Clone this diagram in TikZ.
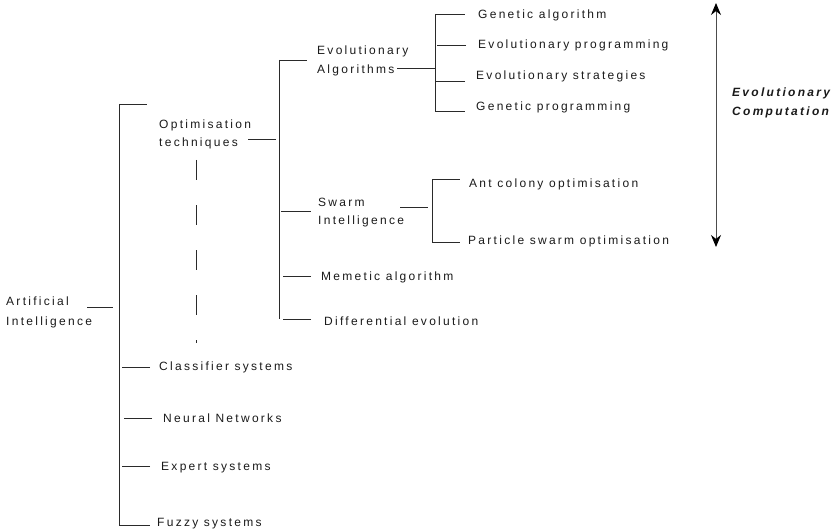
\documentclass[tikz,border=0pt]{standalone}
\usepackage{fontspec}
\setmainfont{Liberation Sans}[LetterSpace=19]
\usetikzlibrary{arrows.meta}
\definecolor{ink}{HTML}{1A1A1A}
\definecolor{rule}{HTML}{2A2A2A}
\begin{document}
\begin{tikzpicture}[x=1pt,y=-1pt,
  lbl/.style={anchor=west,inner sep=0pt,text=ink,font=\fontsize{12}{19}\selectfont,
              text height=12.6pt,text depth=2.7pt},
  lbl2/.style={anchor=north west,inner sep=0pt,text=ink,align=left},
  stub/.style={draw=rule,line width=0.8pt},
  trunk/.style={draw=rule,line width=0.8pt}]
\useasboundingbox (0,0) rectangle (838,532);

% ---- root ----
\node[lbl2,font=\fontsize{12}{20}\selectfont] (ai) at (6,297) {Artificial\\Intelligence};
\coordinate (t1a) at (119,104);
\coordinate (t1b) at (119,525);
\draw[trunk] (t1a) -- (t1b);
\draw[stub] ([shift={(81,10)}]ai.north west) -- ++(26,0);

% ---- first level ----
\node[lbl2,font=\fontsize{12}{18}\selectfont] (opt) at (159,120) {Optimisation\\techniques};
\draw[stub] (t1a) -- ++(28,0);
\draw[stub] ([shift={(89,19)}]opt.north west) -- ++(28,0);

\node[lbl] (cls) at (159,366) {Classifier systems};
\node[lbl] (nn)  at (163,418) {Neural Networks};
\node[lbl] (exp) at (161,466) {Expert systems};
\node[lbl] (fuz) at (157,522) {Fuzzy systems};
\draw[stub] ([shift={(-9,1)}]cls.west) -- ++(-28,0);
\draw[stub] ([shift={(-11,0)}]nn.west) -- ++(-28,0);
\draw[stub] ([shift={(-11,0)}]exp.west) -- ++(-28,0);
\draw[stub] (t1b) -- ([shift={(-7,3)}]fuz.west);

% dashed continuation below the optimisation techniques
\coordinate (da) at (196,160);
\coordinate (db) at (196,343);
\draw[rule,line width=0.8pt,dash pattern=on 20pt off 25pt] (da) -- (db);

% ---- optimisation techniques ----
\coordinate (t2a) at (279,60);
\coordinate (t2b) at (279,319);
\draw[trunk] (t2a) -- (t2b);

\node[lbl2,font=\fontsize{12}{19}\selectfont] (ea) at (317,46) {Evolutionary\\Algorithms};
\draw[stub] (t2a) -- ++(28,0);
\draw[stub] ([shift={(80,22)}]ea.north west) -- ++(38,0);

\node[lbl2,font=\fontsize{12}{18}\selectfont] (si) at (318,198) {Swarm\\Intelligence};
\draw[stub] ([shift={(-37,13)}]si.north west) -- ++(30,0);
\draw[stub] ([shift={(82,9)}]si.north west) -- ++(28,0);

\node[lbl] (mem) at (321,276) {Memetic algorithm};
\node[lbl] (de)  at (324,321) {Differential evolution};
\draw[stub] ([shift={(-10,0)}]mem.west) -- ++(-28,0);
\draw[stub] ([shift={(-13,-2)}]de.west) -- ++(-28,0);

% ---- evolutionary algorithms ----
\coordinate (t3a) at (435,14);
\coordinate (t3b) at (435,111);
\draw[trunk] (t3a) -- (t3b);

\node[lbl] (ga) at (478,14)  {Genetic algorithm};
\node[lbl] (ep) at (478,44)  {Evolutionary programming};
\node[lbl] (es) at (476,75)  {Evolutionary strategies};
\node[lbl] (gp) at (476,106) {Genetic programming};
\draw[stub] (t3a) -- ([xshift=-13]ga.west);
\draw[stub] ([shift={(-12,1)}]ep.west) -- ++(-29,0);
\draw[stub] ([shift={(-11,6)}]es.west) -- ++(-30,0);
\draw[stub] (t3b) -- ([shift={(-11,5)}]gp.west);

% ---- swarm intelligence ----
\coordinate (t4a) at (432,179);
\coordinate (t4b) at (432,242);
\draw[trunk] (t4a) -- (t4b);

\node[lbl] (ant) at (469,183) {Ant colony optimisation};
\node[lbl] (pso) at (468,240) {Particle swarm optimisation};
\draw[stub] (t4a) -- ([shift={(-9,-4)}]ant.west);
\draw[stub] (t4b) -- ([shift={(-8,2)}]pso.west);

% ---- evolutionary computation span ----
\coordinate (ecTop) at (716,3);
\coordinate (ecBot) at (716,247);
\draw[draw=black!70,line width=0.9pt,
      {Stealth[length=12pt,width=10pt,black]}-{Stealth[length=12pt,width=10pt,black]}]
      (ecTop) -- (ecBot);
\node[lbl2,font=\fontsize{12}{19}\selectfont\bfseries\itshape] (ec) at (732,88)
  {Evolutionary\\Computation};
\end{tikzpicture}
\end{document}
